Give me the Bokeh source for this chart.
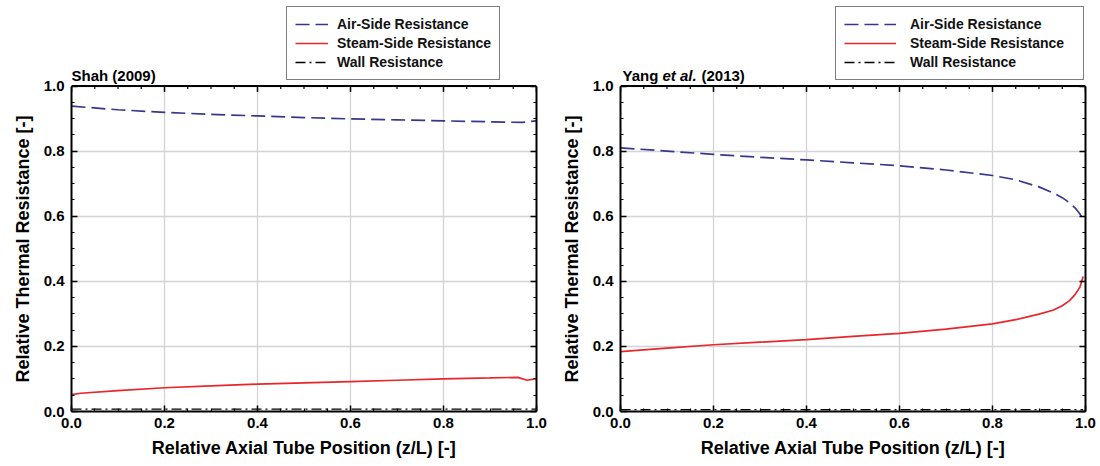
import math
from bokeh.plotting import figure
from bokeh.models import (Range1d, FixedTicker, LinearAxis, Legend, LegendItem,
                          Label, PrintfTickFormatter, Span, Title)
from bokeh.layouts import row
from bokeh.embed import file_html
from bokeh.resources import INLINE

# ---------------- data ----------------
x_ticks = [0.0, 0.2, 0.4, 0.6, 0.8, 1.0]
x_minor = [0.05, 0.1, 0.15, 0.25, 0.3, 0.35, 0.45, 0.5, 0.55, 0.65, 0.7, 0.75, 0.85, 0.9, 0.95]
y_ticks = [0.0, 0.2, 0.4, 0.6, 0.8, 1.0]
y_minor = [0.05, 0.1, 0.15, 0.25, 0.3, 0.35, 0.45, 0.5, 0.55, 0.65, 0.7, 0.75, 0.85, 0.9, 0.95]

series_names = ["Air-Side Resistance", "Steam-Side Resistance", "Wall Resistance"]

# Shah (2009)
shah_z_air = [0.0, 0.1, 0.2, 0.3, 0.4, 0.5, 0.6, 0.7, 0.8, 0.9, 0.97, 1.0]
shah_air = [0.938, 0.927, 0.919, 0.913, 0.908, 0.903, 0.899, 0.896, 0.893, 0.890, 0.888, 0.893]
shah_z_steam = [0.0, 0.02, 0.1, 0.2, 0.3, 0.4, 0.5, 0.6, 0.7, 0.8, 0.9, 0.96, 0.98, 1.0]
shah_steam = [0.052, 0.056, 0.064, 0.073, 0.079, 0.084, 0.088, 0.092, 0.096, 0.100, 0.103, 0.105, 0.096, 0.101]
shah_z_wall = [0.0, 0.5, 1.0]
shah_wall = [0.007, 0.007, 0.007]

# Yang et al. (2013)
yang_z_air = [0.0, 0.1, 0.2, 0.3, 0.4, 0.5, 0.6, 0.7, 0.8, 0.85, 0.9, 0.93, 0.95, 0.965, 0.978, 0.988, 0.995]
yang_air = [0.810, 0.800, 0.790, 0.781, 0.773, 0.764, 0.755, 0.742, 0.725, 0.712, 0.690, 0.672, 0.657, 0.642, 0.625, 0.607, 0.590]
yang_z_steam = [0.0, 0.1, 0.2, 0.3, 0.4, 0.5, 0.6, 0.7, 0.8, 0.85, 0.9, 0.93, 0.95, 0.965, 0.978, 0.988, 0.995]
yang_steam = [0.184, 0.195, 0.205, 0.213, 0.221, 0.231, 0.240, 0.253, 0.269, 0.282, 0.299, 0.311, 0.325, 0.340, 0.360, 0.382, 0.415]
yang_z_wall = [0.0, 0.5, 0.995]
yang_wall = [0.006, 0.006, 0.006]

x_label = "Relative Axial Tube Position (z/L) [-]"
y_label = "Relative Thermal Resistance [-]"

# ---------------- style / layout ----------------
FONT = "Liberation Sans"
NAVY = "#38368f"
RED = "#e8262b"
H = 466
BOTTOM = 55
FRAME_H = H - BOTTOM          # frame spans from the figure top down to the x axis
PLOT_PX = 325.5               # pixel height of the 0..1 data box
Y_END = FRAME_H / PLOT_PX     # extra room above 1.0 holds legend and title


def style_axis(ax, ticks, minor, labels=True):
    ax.ticker = FixedTicker(ticks=ticks, minor_ticks=minor)
    ax.axis_line_color = "black"
    ax.axis_line_width = 2
    ax.major_tick_in = 6
    ax.major_tick_out = 0
    ax.minor_tick_in = 3
    ax.minor_tick_out = 0
    ax.major_tick_line_color = "black"
    ax.minor_tick_line_color = "black"
    ax.major_tick_line_width = 1.5
    ax.minor_tick_line_width = 1.2
    if labels:
        ax.formatter = PrintfTickFormatter(format="%.1f")
        ax.major_label_text_font = FONT
        ax.major_label_text_font_style = "bold"
        ax.major_label_text_font_size = "15px"
        ax.major_label_text_color = "black"
        ax.axis_label_text_font = FONT
        ax.axis_label_text_font_style = "bold"
        ax.axis_label_text_font_size = "18px"
        ax.axis_label_text_color = "black"
    else:
        ax.major_label_text_color = None
        ax.major_label_standoff = 0


def make_panel(width, border_right, air, steam, wall, legend_x, legend_cfg):
    p = figure(width=width, height=H, x_range=Range1d(0, 1), y_range=Range1d(0, Y_END),
               output_backend="svg", toolbar_location=None, title_location=None,
               min_border_left=71, min_border_right=border_right,
               min_border_top=0, min_border_bottom=BOTTOM,
               x_axis_label=x_label)
    p.background_fill_color = "white"
    p.border_fill_color = "white"
    p.outline_line_color = None

    bx = p.xaxis[0]
    style_axis(bx, x_ticks, x_minor)
    bx.major_label_standoff = 6
    bx.axis_label_standoff = 7
    ly = p.yaxis[0]
    style_axis(ly, y_ticks, y_minor)
    ly.bounds = (y_ticks[0], y_ticks[-1])
    ly.major_label_standoff = 7

    # y-axis title centred on the 0..1 data box (not on the taller frame)
    yt = Title(text=y_label, align="left", offset=29, vertical_align="bottom",
               standoff=15, text_font=FONT, text_font_style="bold",
               text_font_size="18px", text_color="black")
    p.add_layout(yt, "left")

    ry = LinearAxis(bounds=(y_ticks[0], y_ticks[-1]))
    style_axis(ry, y_ticks, y_minor, labels=False)
    p.add_layout(ry, "right")

    # top edge of the data box and its inward ticks
    p.add_layout(Span(location=y_ticks[-1], dimension="width", line_color="black", line_width=2))
    p.ray(x=x_ticks, y=[y_ticks[-1]] * len(x_ticks), length=6, length_units="screen",
          angle=-math.pi / 2, line_color="black", line_width=1.5)
    p.ray(x=x_minor, y=[y_ticks[-1]] * len(x_minor), length=3, length_units="screen",
          angle=-math.pi / 2, line_color="black", line_width=1.2)

    # grid: horizontal lines via ygrid, vertical lines only inside the data box
    p.xgrid.visible = False
    p.ygrid.ticker = FixedTicker(ticks=y_ticks)
    p.ygrid.grid_line_color = "#d4d4d4"
    p.ygrid.grid_line_width = 1.3
    p.segment(x0=x_ticks[1:-1], y0=[y_ticks[0]] * 4, x1=x_ticks[1:-1], y1=[y_ticks[-1]] * 4,
              line_color="#d4d4d4", line_width=1.3, level="underlay")

    r_air = p.line(air[0], air[1], line_color=NAVY, line_width=1.7, line_dash="14 6")
    r_steam = p.line(steam[0], steam[1], line_color=RED, line_width=1.7)
    r_wall = p.line(wall[0], wall[1], line_color="black", line_width=1.3, line_dash="10 4 2 4")

    items = [LegendItem(label=series_names[0], renderers=[r_air]),
             LegendItem(label=series_names[1], renderers=[r_steam]),
             LegendItem(label=series_names[2], renderers=[r_wall])]
    leg = Legend(items=items, location=(legend_x, FRAME_H - 80),
                 label_text_font=FONT, label_text_font_style="bold",
                 label_text_font_size="14px", label_text_color="#111111",
                 glyph_height=18, label_height=18, spacing=1, padding=8, margin=0,
                 border_line_color="black", border_line_width=1.5,
                 background_fill_color="white", background_fill_alpha=1.0,
                 **legend_cfg)
    p.add_layout(leg, "center")
    return p


TITLE_Y = FRAME_H - 75
p1 = make_panel(549, 13, (shah_z_air, shah_air), (shah_z_steam, shah_steam),
                (shah_z_wall, shah_wall), 215,
                dict(glyph_width=33, label_standoff=9))
p1.add_layout(Label(x=0, y=TITLE_Y, x_units="screen", y_units="screen",
                    text="Shah (2009)", text_font=FONT, text_font_style="bold",
                    text_font_size="15px", text_color="black", text_baseline="alphabetic"))

p2 = make_panel(551, 15, (yang_z_air, yang_air), (yang_z_steam, yang_steam),
                (yang_z_wall, yang_wall), 215,
                dict(glyph_width=52, label_standoff=14, label_width=165))
for txt, xo, st in [("Yang", 2, "bold"), ("et al.", 42, "bold italic"), ("(2013)", 81, "bold")]:
    p2.add_layout(Label(x=xo, y=TITLE_Y, x_units="screen", y_units="screen",
                        text=txt, text_font=FONT, text_font_style=st,
                        text_font_size="15px", text_color="black", text_baseline="alphabetic"))

layout = row(p1, p2)
open("out.html", "w").write(file_html(layout, INLINE))
